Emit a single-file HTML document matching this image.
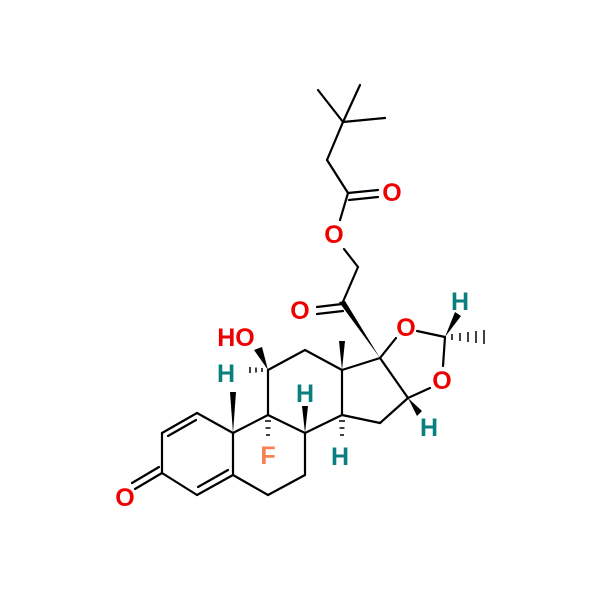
<!DOCTYPE html>
<html><head><style>body{margin:0;background:#fff}svg{display:block}</style></head><body>
<svg width="600" height="592" viewBox="0 0 600 592" xmlns="http://www.w3.org/2000/svg">
<g stroke="#000" stroke-width="2.2" fill="none" stroke-linecap="round">
<line x1="233" y1="433" x2="197" y2="413"/>
<line x1="197" y1="413" x2="162" y2="433"/>
<line x1="196" y1="420" x2="168" y2="436"/>
<line x1="162" y1="433" x2="162" y2="473"/>
<line x1="162" y1="473" x2="197" y2="495"/>
<line x1="197" y1="495" x2="233" y2="475"/>
<line x1="198" y1="487" x2="228" y2="470"/>
<line x1="233" y1="475" x2="233" y2="433"/>
<line x1="162" y1="473" x2="135" y2="489"/>
<line x1="159" y1="467" x2="132" y2="483"/>
<line x1="233" y1="475" x2="268" y2="495"/>
<line x1="268" y1="495" x2="305" y2="475"/>
<line x1="305" y1="475" x2="305" y2="433"/>
<line x1="305" y1="433" x2="268" y2="415"/>
<line x1="268" y1="415" x2="233" y2="433"/>
<line x1="268" y1="415" x2="268" y2="370"/>
<line x1="268" y1="370" x2="305" y2="350"/>
<line x1="305" y1="350" x2="342" y2="370"/>
<line x1="342" y1="370" x2="342" y2="415"/>
<line x1="342" y1="415" x2="305" y2="433"/>
<line x1="342" y1="370" x2="380" y2="358"/>
<line x1="380" y1="358" x2="408" y2="398"/>
<line x1="408" y1="398" x2="380" y2="423"/>
<line x1="380" y1="423" x2="342" y2="415"/>
<line x1="380" y1="358" x2="396" y2="338"/>
<line x1="417" y1="331" x2="445" y2="337"/>
<line x1="445" y1="337" x2="443" y2="366"/>
<line x1="430" y1="388" x2="408" y2="398"/>
<line x1="342" y1="304" x2="358" y2="267"/>
<line x1="358" y1="267" x2="344" y2="249"/>
<line x1="340" y1="220" x2="348" y2="193"/>
<line x1="348" y1="193" x2="378" y2="190"/>
<line x1="349" y1="200" x2="378" y2="197"/>
<line x1="348" y1="193" x2="327" y2="160"/>
<line x1="327" y1="160" x2="343" y2="122"/>
<line x1="343" y1="122" x2="318" y2="90"/>
<line x1="343" y1="122" x2="360" y2="85"/>
<line x1="343" y1="122" x2="385" y2="118"/>
<line x1="342" y1="304" x2="317" y2="307"/>
<line x1="343" y1="311" x2="317" y2="314"/>
</g>
<g fill="#000">
<polygon points="380,358 339,302 345,301"/>
<polygon points="233,433 230,392 236,392"/>
<polygon points="342,370 339,341 345,341"/>
<polygon points="268,370 254,350 262,347"/>
<polygon points="305,433 302,406 308,406"/>
<polygon points="445,337 455,312 461,316"/>
<polygon points="408,398 417,416 422,411"/>
</g>
<g stroke="#000" stroke-width="1.5">
<line x1="262" y1="368" x2="262" y2="372"/><line x1="256" y1="367.5" x2="256" y2="372.5"/><line x1="250" y1="367" x2="250" y2="373"/>
<line x1="265" y1="421" x2="271" y2="421"/><line x1="265.5" y1="428" x2="270.5" y2="428"/><line x1="266" y1="435" x2="270" y2="435"/>
<line x1="339" y1="421" x2="345" y2="421"/><line x1="339.5" y1="428" x2="344.5" y2="428"/><line x1="340" y1="435" x2="344" y2="435"/>
<line x1="452" y1="334" x2="452" y2="340"/><line x1="460" y1="333" x2="460" y2="341"/><line x1="468" y1="332" x2="468" y2="342"/><line x1="476" y1="331" x2="476" y2="343"/><line x1="484" y1="330" x2="484" y2="344"/>
</g>
<g font-family="Liberation Sans, sans-serif" font-weight="bold" font-size="25" text-anchor="middle">
<text x="125" y="506" fill="#e00">O</text>
<text x="300" y="319" fill="#e00">O</text>
<text x="406" y="336" fill="#e00">O</text>
<text x="442" y="389" fill="#e00">O</text>
<text x="334" y="243" fill="#e00">O</text>
<text x="392" y="201" fill="#e00">O</text>
<text x="236" y="346" fill="#e00">HO</text>
<text x="268" y="464" fill="#f77f50">F</text>
<g fill="#0a7f7f">
<text x="226" y="382">H</text>
<text x="305" y="402">H</text>
<text x="340" y="465">H</text>
<text x="460" y="310">H</text>
<text x="429" y="436">H</text>
</g>
</g>
</svg>
</body></html>
